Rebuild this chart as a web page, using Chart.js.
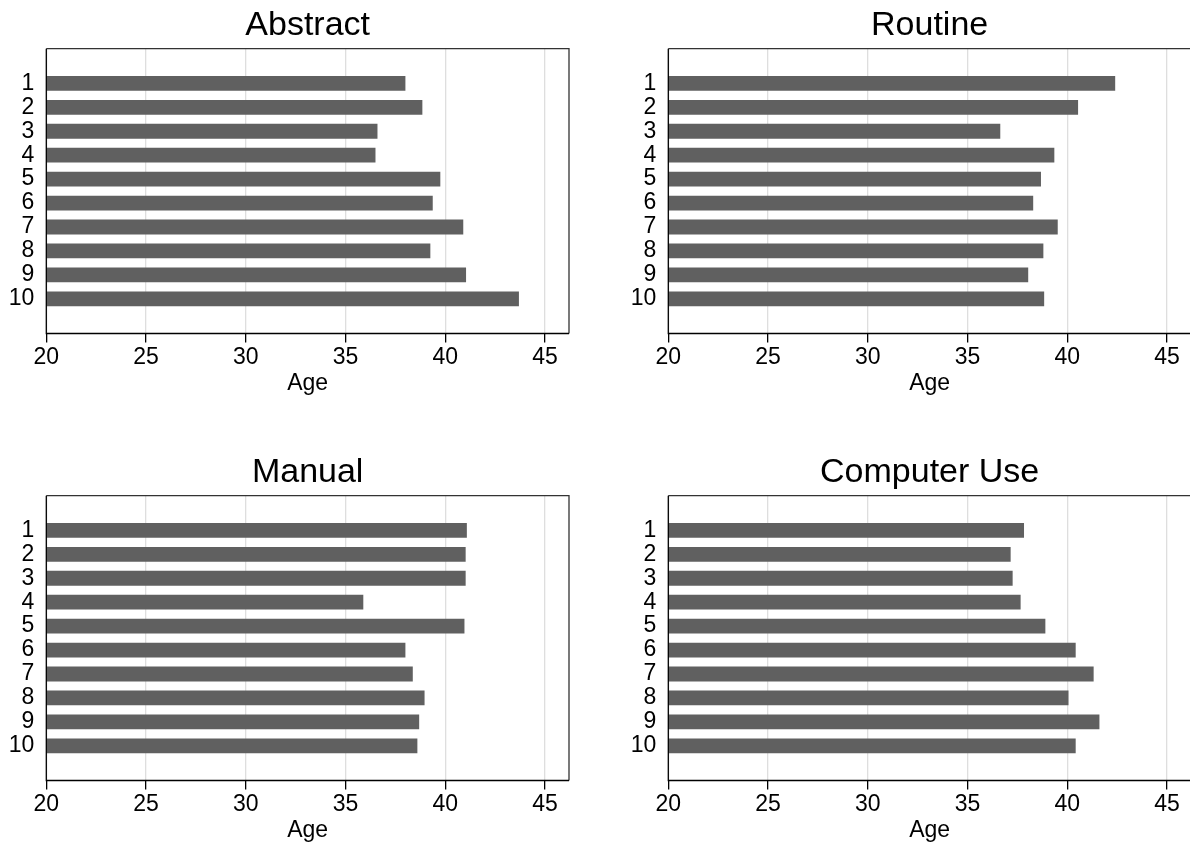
<!DOCTYPE html>
<html>
<head>
<meta charset="utf-8">
<script src="https://cdn.jsdelivr.net/npm/chart.js@4"></script>
<style>
  html, body { margin: 0; padding: 0; background: #fff; overflow: hidden; }
  body { width: 1190px; height: 845px; position: relative; }
  canvas { position: absolute; }
</style>
</head>
<body>
<canvas id="abstract" width="595" height="420" style="left:0;top:0"></canvas>
<canvas id="routine" width="595" height="420" style="left:622px;top:0"></canvas>
<canvas id="manual" width="595" height="420" style="left:0;top:447px"></canvas>
<canvas id="computer" width="595" height="420" style="left:622px;top:447px"></canvas>
<script>
// groups 1..10, mean age per group
const categories = ['1', '2', '3', '4', '5', '6', '7', '8', '9', '10'];
const ageTicks = [20, 25, 30, 35, 40, 45];
const abstractAge = [38.0, 38.85, 36.6, 36.5, 39.75, 39.37, 40.9, 39.25, 41.04, 43.69];
const routineAge = [42.4, 40.54, 36.64, 39.35, 38.68, 38.29, 39.52, 38.8, 38.04, 38.84];
const manualAge = [41.08, 41.02, 41.02, 35.89, 40.96, 38.0, 38.37, 38.96, 38.69, 38.6];
const computerAge = [37.83, 37.16, 37.26, 37.66, 38.9, 40.42, 41.32, 40.06, 41.61, 40.42];

const FONT = 'Liberation Sans, Arial, Helvetica, sans-serif';

// box round the plot area + panel title centred over it
const framePlugin = {
    id: 'frame',
    afterDatasetsDraw(chart, args, opts) {
        const { ctx, chartArea: a } = chart;
        ctx.save();
        ctx.lineWidth = 1.3;
        ctx.strokeStyle = '#333';
        ctx.beginPath();
        ctx.moveTo(a.left, a.top);
        ctx.lineTo(a.right, a.top);
        ctx.lineTo(a.right, a.bottom);
        ctx.stroke();
        ctx.strokeStyle = '#000';
        ctx.beginPath();
        ctx.moveTo(a.left, a.top);
        ctx.lineTo(a.left, a.bottom);
        ctx.lineTo(a.right, a.bottom);
        ctx.stroke();

        ctx.fillStyle = '#000';
        ctx.font = '34px ' + FONT;
        ctx.textAlign = 'center';
        ctx.textBaseline = 'alphabetic';
        ctx.fillText(opts.text, (a.left + a.right) / 2, a.top - 14);
        ctx.restore();
    }
};

function makeChart(id, title, values) {
    const ctx = document.getElementById(id).getContext('2d');
    return new Chart(ctx, {
        type: 'bar',
        data: {
            datasets: [{
                data: values.map((v, i) => ({ x: v, y: i + 1 })),
                backgroundColor: '#606060',
                borderWidth: 0,
                barPercentage: 0.62,
                categoryPercentage: 1
            }]
        },
        options: {
            indexAxis: 'y',
            responsive: false,
            animation: false,
            layout: { padding: { left: 0, right: 26, top: 48.7, bottom: 0 } },
            plugins: {
                legend: { display: false },
                tooltip: { enabled: false },
                title: { display: false },
                frame: { text: title }
            },
            scales: {
                x: {
                    type: 'linear',
                    min: 20,
                    max: 46.2,
                    afterBuildTicks: s => { s.ticks = ageTicks.map(v => ({ value: v })); },
                    afterFit: s => { s.height = 86.5; },
                    grid: { color: '#dedede', lineWidth: 1.3, tickColor: '#000', tickLength: 9 },
                    border: { display: false },
                    ticks: { color: '#000', padding: 1, font: { family: FONT, size: 23 } },
                    title: {
                        display: true,
                        text: 'Age',
                        color: '#000',
                        font: { family: FONT, size: 23 },
                        padding: { top: 0, bottom: 22.5 }
                    }
                },
                y: {
                    type: 'linear',
                    reverse: true,
                    offset: false,
                    min: -0.45,
                    max: 11.45,
                    afterBuildTicks: s => { s.ticks = categories.map((c, i) => ({ value: i + 1 })); },
                    afterFit: s => { s.width = 46.3; },
                    grid: { display: false, drawTicks: false, offset: false },
                    border: { display: false },
                    ticks: {
                        color: '#000',
                        padding: 12,
                        autoSkip: false,
                        font: { family: FONT, size: 23 },
                        callback: v => categories[v - 1]
                    }
                }
            }
        },
        plugins: [framePlugin]
    });
}

makeChart('abstract', 'Abstract', abstractAge);
makeChart('routine', 'Routine', routineAge);
makeChart('manual', 'Manual', manualAge);
makeChart('computer', 'Computer Use', computerAge);
</script>
</body>
</html>
